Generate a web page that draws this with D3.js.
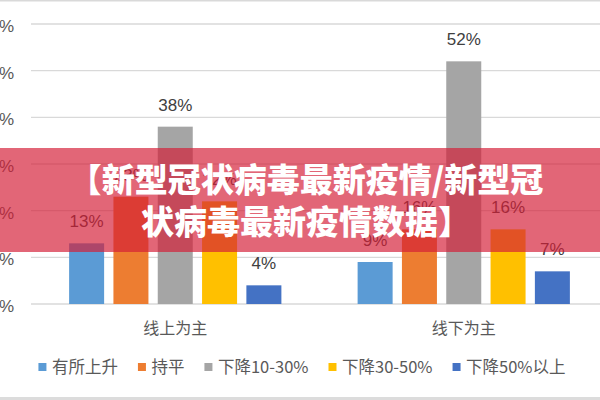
<!DOCTYPE html>
<html>
<head>
<meta charset="utf-8">
<script src="https://cdn.jsdelivr.net/npm/d3@7"></script>
<style>
  body { margin: 0; background: #fff; }
  svg { display: block; }
</style>
</head>
<body>
<div id="container"></div>
<script>
const categories = ["线上为主", "线下为主"];
const seriesNames = ["有所上升", "持平", "下降10-30%", "下降30-50%", "下降50%以上"];
const seriesColors = ["#5B9BD5", "#ED7D31", "#A5A5A5", "#FFC000", "#4472C4"];
// percent values per series, one per category
const rising   = [13, 9];
const flat     = [23, 16];
const down1030 = [38, 52];
const down3050 = [22, 16];
const down50   = [4, 7];
const yTicks = [0, 10, 20, 30, 40, 50, 60];
const titleLines = ["【新型冠状病毒最新疫情/新型冠", "状病毒最新疫情数据】"];

const width = 600;
const height = 400;
const marginTop = 24;
const marginBottom = 96;
const marginLeft = 31;
const plotRight = 608;
const cjk = "'Noto Sans CJK SC', 'Liberation Sans', Arial, sans-serif";
const latin = "'Liberation Sans', Arial, 'Noto Sans CJK SC', sans-serif";

const values = [rising, flat, down1030, down3050, down50];
const data = [];
categories.forEach((c, ci) => {
  seriesNames.forEach((s, si) => {
    data.push({cat: c, series: s, value: values[si][ci], color: seriesColors[si]});
  });
});

const x0 = d3.scaleBand(categories, [marginLeft, plotRight]);
const x1 = d3.scaleBand(seriesNames, [0, x0.bandwidth()]).paddingInner(0.21).paddingOuter(0.86);
const y = d3.scaleLinear([0, 60], [height - marginBottom, marginTop]);

const svg = d3.create("svg")
    .attr("width", width)
    .attr("height", height);

svg.append("rect").attr("width", width).attr("height", height).attr("fill", "#fff");

// frame edges
svg.append("line")
    .attr("x1", 0).attr("x2", width).attr("y1", 0.75).attr("y2", 0.75)
    .attr("stroke", "#d9d9d9").attr("stroke-width", 1.5);
svg.append("rect")
    .attr("x", 0).attr("y", 397).attr("width", width).attr("height", 3)
    .attr("fill", "#dcdcdc");

// gridlines
svg.append("g")
  .selectAll("line")
  .data(yTicks)
  .join("line")
    .attr("x1", marginLeft).attr("x2", width)
    .attr("y1", d => y(d)).attr("y2", d => y(d))
    .attr("stroke", "#d9d9d9").attr("stroke-width", 1.3);

// y tick labels (cut off at the left edge)
svg.append("g")
  .selectAll("text")
  .data(yTicks)
  .join("text")
    .attr("x", 14)
    .attr("y", d => y(d) + 8)
    .attr("text-anchor", "end")
    .attr("font-family", latin)
    .attr("font-size", 17)
    .attr("fill", "#595959")
    .text(d => d + "%");

// bars
svg.append("g")
  .selectAll("rect")
  .data(data)
  .join("rect")
    .attr("x", d => x0(d.cat) + x1(d.series))
    .attr("y", d => y(d.value))
    .attr("width", x1.bandwidth())
    .attr("height", d => y(0) - y(d.value))
    .attr("fill", d => d.color);

// data labels
svg.append("g")
  .selectAll("text")
  .data(data)
  .join("text")
    .attr("x", d => x0(d.cat) + x1(d.series) + x1.bandwidth() / 2)
    .attr("y", d => y(d.value) - 16)
    .attr("text-anchor", "middle")
    .attr("font-family", latin)
    .attr("font-size", 17)
    .attr("fill", "#404040")
    .text(d => d.value + "%");

// category labels
svg.append("g")
  .selectAll("text")
  .data(categories)
  .join("text")
    .attr("x", d => x0(d) + x0.bandwidth() / 2)
    .attr("y", 334)
    .attr("text-anchor", "middle")
    .attr("font-family", cjk)
    .attr("font-size", 16)
    .attr("fill", "#595959")
    .text(d => d);

// legend
const legend = svg.append("g");
const items = legend.selectAll("g")
  .data(seriesNames)
  .join("g");
items.append("rect")
    .attr("width", 8).attr("height", 8)
    .attr("y", 363)
    .attr("fill", (d, i) => seriesColors[i]);
items.append("text")
    .attr("x", 13.5)
    .attr("y", 373)
    .attr("font-family", cjk)
    .attr("font-size", 16.5)
    .attr("fill", "#595959")
    .text(d => d);

// title band over the chart
svg.append("rect")
    .attr("x", 0).attr("y", 148)
    .attr("width", width).attr("height", 104)
    .attr("fill", "rgb(212, 30, 55)")
    .attr("fill-opacity", 0.68);

svg.append("g")
  .selectAll("text")
  .data(titleLines)
  .join("text")
    .attr("x", 306)
    .attr("y", (d, i) => 180 + i * 42)
    .attr("dy", "0.36em")
    .attr("text-anchor", "middle")
    .attr("font-family", cjk)
    .attr("font-weight", 900)
    .attr("font-size", 33)
    .attr("fill", "#fff")
    .text(d => d);

container.append(svg.node());

// place legend items after text can be measured
let pos = 0;
const gap = 20;
const widths = [];
items.each(function() {
  widths.push(13.5 + d3.select(this).select("text").node().getComputedTextLength());
});
const total = d3.sum(widths) + gap * (widths.length - 1);
pos = 302 - total / 2;
items.each(function(d, i) {
  d3.select(this).attr("transform", `translate(${pos},0)`);
  pos += widths[i] + gap;
});
</script>
</body>
</html>
